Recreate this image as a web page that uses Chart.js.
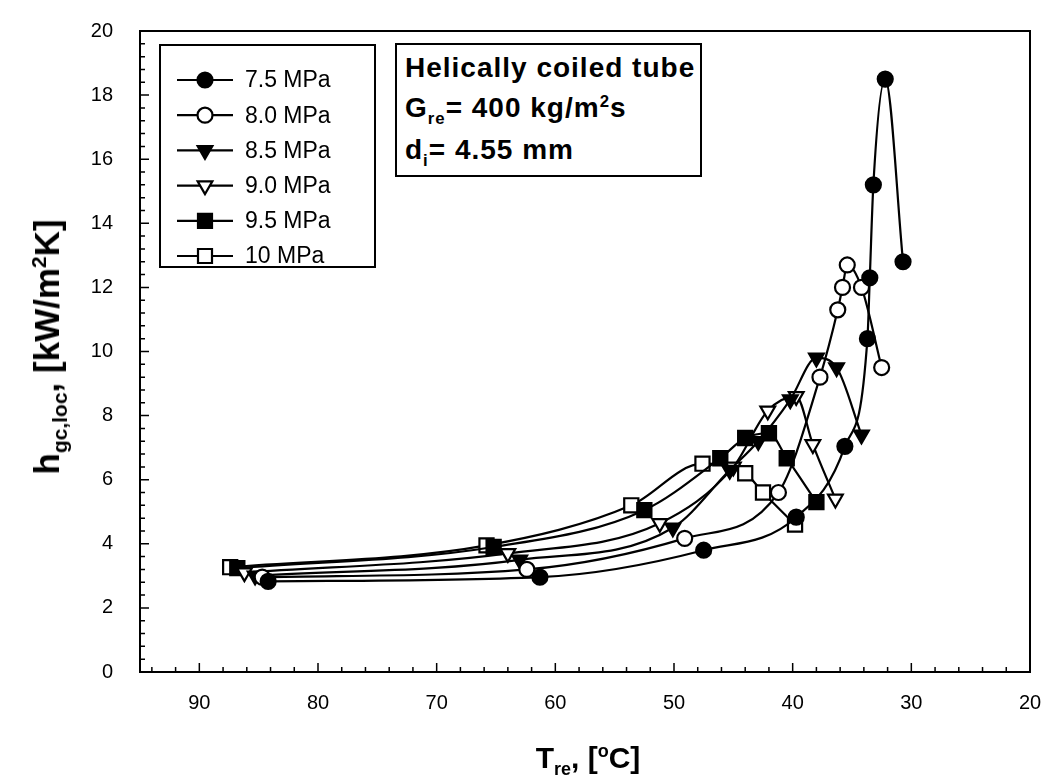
<!DOCTYPE html>
<html>
<head>
<meta charset="utf-8">
<script src="https://cdn.jsdelivr.net/npm/chart.js@4/dist/chart.umd.min.js"></script>
<style>
  body { margin: 0; background: #fff; }
  #wrap { position: relative; width: 1059px; height: 782px; }
  .lbl { position: absolute; font-family: "Liberation Sans", Arial, sans-serif; font-weight: bold; color: #000; white-space: nowrap; }
  .lbl sub, .lbl sup { font-size: 60%; line-height: 0; }
  #ytitle { left: 47px; top: 347px; font-size: 35px; transform: translate(-50%, -50%) rotate(-90deg); }
  #xtitle { left: 588px; top: 758px; font-size: 30px; transform: translate(-50%, -50%); }
  #note { left: 395px; top: 43px; width: 303px; height: 130px; border: 2px solid #000; background: #fff; }
  #note div { position: absolute; left: 8px; font-size: 28px; line-height: 30px; letter-spacing: 1px; }
</style>
</head>
<body>
<div id="wrap">
  <canvas id="hChart" width="1059" height="782"></canvas>
  <div class="lbl" id="ytitle">h<sub>gc,loc</sub>, [kW/m<sup>2</sup>K]</div>
  <div class="lbl" id="xtitle">T<sub>re</sub>, [<sup>o</sup>C]</div>
  <div class="lbl" id="note">
    <div style="top: 8px;">Helically coiled tube</div>
    <div style="top: 48px;">G<sub>re</sub>= 400 kg/m<sup>2</sup>s</div>
    <div style="top: 90px;">d<sub>i</sub>= 4.55 mm</div>
  </div>
</div>
<script>
// series labels
const pressures = ['7.5 MPa', '8.0 MPa', '8.5 MPa', '9.0 MPa', '9.5 MPa', '10 MPa'];

// refrigerant temperature [C] and local heat transfer coefficient [kW/m2K]
const t75 = [84.2, 61.3, 47.5, 39.7, 35.6, 33.7, 33.5, 33.2, 32.2, 30.7];
const h75 = [2.83, 2.96, 3.8, 4.83, 7.04, 10.4, 12.3, 15.2, 18.5, 12.8];

const t80 = [84.7, 62.4, 49.1, 41.2, 37.7, 36.2, 35.8, 35.4, 34.2, 32.5];
const h80 = [2.96, 3.2, 4.17, 5.6, 9.2, 11.3, 12.0, 12.7, 12.0, 9.5];

const t85 = [85.3, 63.0, 50.1, 45.3, 42.9, 40.2, 38.0, 36.3, 34.2];
const h85 = [3.0, 3.5, 4.5, 6.3, 7.2, 8.5, 9.8, 9.5, 7.4];

const t90 = [86.2, 64.0, 51.2, 45.0, 42.1, 39.7, 38.3, 36.4];
const h90 = [3.1, 3.7, 4.64, 6.4, 8.15, 8.6, 7.1, 5.4];

const t95 = [86.8, 65.2, 52.5, 46.1, 44.0, 42.0, 40.5, 38.0];
const h95 = [3.24, 3.9, 5.05, 6.67, 7.3, 7.45, 6.67, 5.3];

const t100 = [87.4, 65.8, 53.6, 47.6, 44.0, 42.5, 39.8];
const h100 = [3.27, 3.95, 5.2, 6.5, 6.2, 5.6, 4.6];

// axis ticks
const xTicks = [90, 80, 70, 60, 50, 40, 30, 20];
const yTicks = [0, 2, 4, 6, 8, 10, 12, 14, 16, 18, 20];

const temps = [t75, t80, t85, t90, t95, t100];
const coeffs = [h75, h80, h85, h90, h95, h100];
const styles = ['circle', 'circle', 'triangle', 'triangle', 'rect', 'rect'];
const filled = [true, false, true, false, true, false];

function pts(t, h) {
    return t.map((v, i) => ({ x: v, y: h[i] }));
}

const datasets = pressures.map((name, i) => ({
    label: name,
    data: pts(temps[i], coeffs[i]),
    showLine: true,
    borderColor: '#000',
    borderWidth: 2.2,
    cubicInterpolationMode: 'monotone',
    pointStyle: styles[i],
    pointRotation: styles[i] === 'triangle' ? 180 : 0,
    pointRadius: styles[i] === 'rect' ? 10 : (styles[i] === 'triangle' ? 8.5 : 7.5),
    pointBorderWidth: 2.2,
    pointBorderColor: '#000',
    pointBackgroundColor: filled[i] ? '#000' : '#fff'
}));

function drawMarker(ctx, style, filledIn, x, y) {
    ctx.save();
    ctx.beginPath();
    if (style === 'circle') {
        ctx.arc(x, y, 7.5, 0, Math.PI * 2);
    } else if (style === 'triangle') {
        const r = 8.5;
        ctx.moveTo(x, y + r);
        ctx.lineTo(x - r * 0.866, y - r * 0.5);
        ctx.lineTo(x + r * 0.866, y - r * 0.5);
        ctx.closePath();
    } else {
        ctx.rect(x - 7, y - 7, 14, 14);
    }
    ctx.fillStyle = filledIn ? '#000' : '#fff';
    ctx.fill();
    ctx.lineWidth = 2.2;
    ctx.strokeStyle = '#000';
    ctx.stroke();
    ctx.restore();
}

// frame, inward ticks and the legend box
const framePlugin = {
    id: 'frame',
    afterDatasetsDraw(chart) {
        const { ctx, chartArea: a, scales } = chart;
        ctx.save();
        ctx.strokeStyle = '#000';
        ctx.lineWidth = 2;
        ctx.strokeRect(a.left, a.top, a.right - a.left, a.bottom - a.top);

        ctx.lineWidth = 1.5;
        ctx.beginPath();
        for (let v = 20; v <= 95; v += 2) {
            const px = scales.x.getPixelForValue(v);
            const len = v % 10 === 0 ? 9 : 5;
            ctx.moveTo(px, a.bottom);
            ctx.lineTo(px, a.bottom - len);
        }
        for (let k = 0; k <= 50; k++) {
            const py = scales.y.getPixelForValue(k * 0.4);
            const len = k % 5 === 0 ? 9 : 5;
            ctx.moveTo(a.left, py);
            ctx.lineTo(a.left + len, py);
        }
        ctx.stroke();

        // legend
        ctx.fillStyle = '#fff';
        ctx.fillRect(160, 45, 215, 222);
        ctx.lineWidth = 2;
        ctx.strokeRect(160, 45, 215, 222);
        ctx.font = '23px "Liberation Sans", Arial, sans-serif';
        ctx.textBaseline = 'middle';
        pressures.forEach((name, i) => {
            const y = 80 + i * 35.2;
            ctx.beginPath();
            ctx.lineWidth = 2.2;
            ctx.moveTo(177, y);
            ctx.lineTo(233, y);
            ctx.stroke();
            drawMarker(ctx, styles[i], filled[i], 205, y);
            ctx.fillStyle = '#000';
            ctx.fillText(name, 245, y + 1);
        });
        ctx.restore();
    }
};

const tickFont = { family: '"Liberation Sans", Arial, sans-serif', size: 20 };

const ctx = document.getElementById('hChart').getContext('2d');
new Chart(ctx, {
    type: 'scatter',
    data: { datasets: datasets },
    options: {
        responsive: false,
        animation: false,
        layout: { padding: { top: 30, right: 29, left: 0, bottom: 0 } },
        plugins: {
            legend: { display: false },
            tooltip: { enabled: false }
        },
        scales: {
            x: {
                type: 'linear',
                reverse: true,
                min: 20,
                max: 95,
                afterFit(scale) { scale.height = 110; },
                afterBuildTicks(scale) { scale.ticks = xTicks.map(v => ({ value: v })); },
                ticks: { font: tickFont, color: '#000', padding: 11, maxRotation: 0 },
                grid: { display: false },
                border: { display: false }
            },
            y: {
                min: 0,
                max: 20,
                afterFit(scale) { scale.width = 140; },
                afterBuildTicks(scale) { scale.ticks = yTicks.map(v => ({ value: v })); },
                ticks: { font: tickFont, color: '#000', padding: 19 },
                grid: { display: false },
                border: { display: false }
            }
        }
    },
    plugins: [framePlugin]
});
</script>
</body>
</html>
